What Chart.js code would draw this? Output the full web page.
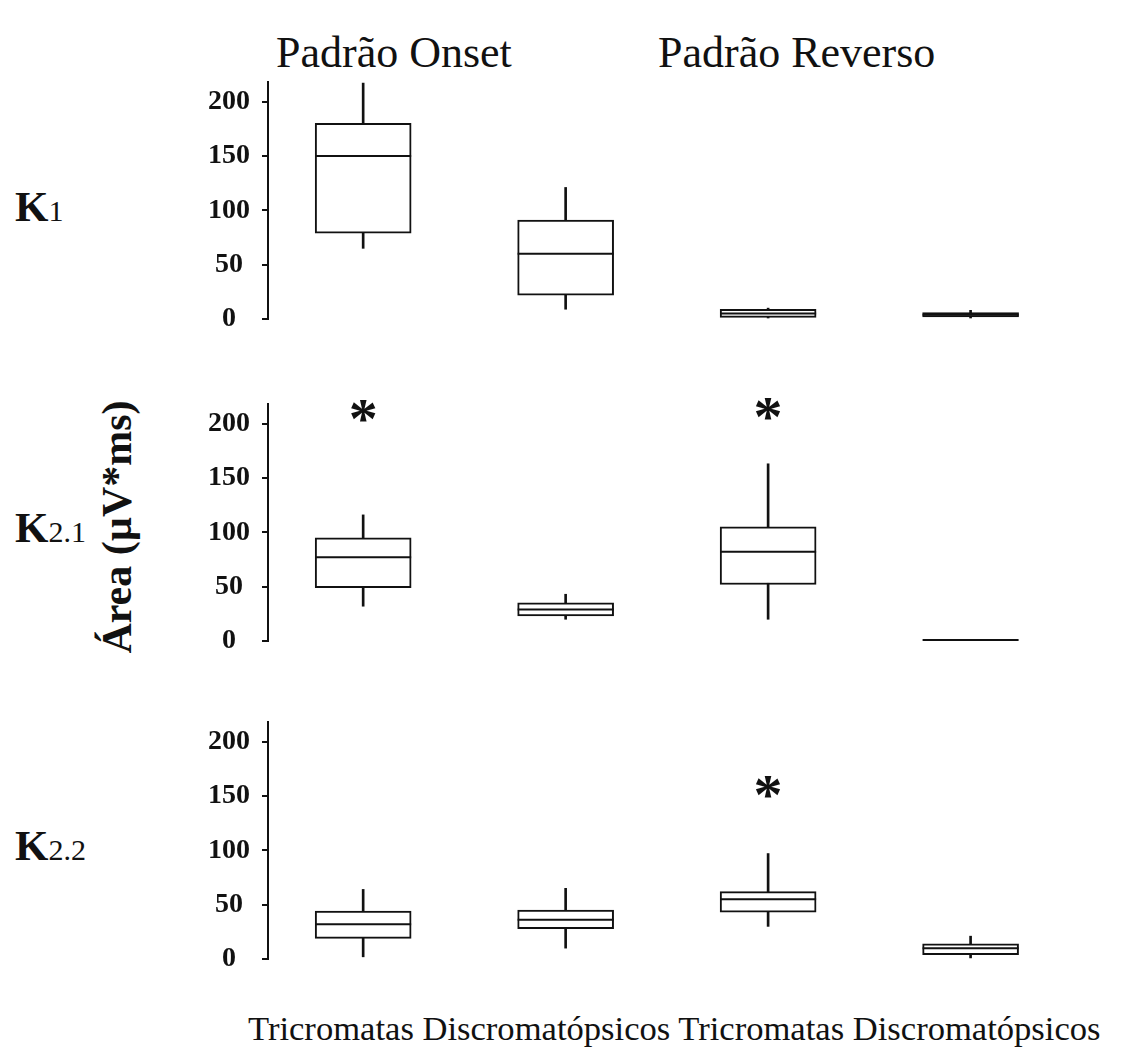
<!DOCTYPE html>
<html>
<head>
<meta charset="utf-8">
<script src="https://cdn.jsdelivr.net/npm/chart.js@4.4.0/dist/chart.umd.min.js"></script>
<style>
  body { margin: 0; background: #fff; width: 1126px; height: 1048px; position: relative; overflow: hidden;
         font-family: 'Liberation Serif', 'Times New Roman', serif; color: #111; }
  .panel { position: absolute; left: 0; width: 1126px; height: 277px; }
  .txt { position: absolute; white-space: nowrap; line-height: 1; }
  .title { font-size: 44px; top: 31px; }
  .klabel { font-size: 43px; font-weight: bold; left: 15px; }
  .klabel span { font-size: 30px; font-weight: normal; }
</style>
</head>
<body>
<div class="txt title" style="left:276px">Padrão Onset</div>
<div class="txt title" style="left:658px">Padrão Reverso</div>

<div class="txt klabel" style="top:185px">K<span>1</span></div>
<div class="txt klabel" style="top:506px">K<span>2.1</span></div>
<div class="txt klabel" style="top:824px">K<span>2.2</span></div>

<div class="txt" style="left:117px; top:527px; font-size:42px; font-weight:bold; transform:translate(-50%,-50%) rotate(-90deg);">Área (µV*ms)</div>

<div class="panel" style="top:62px"><canvas id="k1" width="1126" height="277"></canvas></div>
<div class="panel" style="top:384px"><canvas id="k21" width="1126" height="277"></canvas></div>
<div class="panel" style="top:702px"><canvas id="k22" width="1126" height="277"></canvas></div>

<div id="xlabels" class="txt" style="left:248px; top:1011px; font-size:34.6px;"></div>

<script>
// groups along the x axis
const groups = ['Tricromatas', 'Discromatópsicos', 'Tricromatas', 'Discromatópsicos'];
const yTicks = [0, 50, 100, 150, 200];

// K1
const k1Min = [65, 9, 0, 0];
const k1Q1 = [79, 22, 1.5, 2];
const k1Med = [150, 60, 5, 4];
const k1Q3 = [180, 91, 9, 6];
const k1Max = [217, 121, 10, 8];
const k1Stars = [null, null, null, null];

// K2.1
const k21Min = [32, 20, 20, 1];
const k21Q1 = [49, 23, 52, 1];
const k21Med = [77, 29, 82, 1];
const k21Q3 = [95, 35, 105, 1];
const k21Max = [116, 43, 163, 1];
const k21Stars = [212, null, 213, null];

// K2.2
const k22Min = [2, 10, 30, 1];
const k22Q1 = [19, 28, 43, 4];
const k22Med = [32, 36, 55, 10];
const k22Q3 = [44, 45, 62, 14];
const k22Max = [64, 65, 97, 21];
const k22Stars = [null, null, 158, null];

const ink = '#111';
const serif = "'Liberation Serif', 'Times New Roman', serif";

document.getElementById('xlabels').textContent = groups.join(' ');

// draws the significance asterisks above the boxes
const starPlugin = {
    id: 'stars',
    afterDatasetsDraw(chart, args, opts) {
        const { ctx, scales: { x, y } } = chart;
        ctx.save();
        ctx.fillStyle = ink;
        ctx.font = 'bold 58px ' + serif;
        ctx.textAlign = 'center';
        ctx.textBaseline = 'alphabetic';
        const m = ctx.measureText('*');
        const shift = (m.actualBoundingBoxAscent - m.actualBoundingBoxDescent) / 2;
        opts.values.forEach((v, i) => {
            if (v == null) return;
            ctx.fillText('*', x.getPixelForValue(i + 1), y.getPixelForValue(v) + shift);
        });
        ctx.restore();
    }
};

function makePanel(id, mins, q1s, meds, q3s, maxs, stars) {
    const pos = groups.map((g, i) => i + 1);
    const canvas = document.getElementById(id);
    return new Chart(canvas, {
        type: 'bar',
        data: {
            datasets: [
                {
                    label: 'whisker',
                    data: pos.map((x, i) => ({ x, y: [mins[i], maxs[i]] })),
                    backgroundColor: ink,
                    borderWidth: 0,
                    barThickness: 2,
                    grouped: false,
                    order: 3
                },
                {
                    label: 'box',
                    data: pos.map((x, i) => ({ x, y: [q1s[i], q3s[i]] })),
                    backgroundColor: '#fff',
                    borderColor: ink,
                    borderWidth: 2,
                    borderSkipped: false,
                    barThickness: 96,
                    grouped: false,
                    order: 2
                },
                {
                    type: 'scatter',
                    label: 'median',
                    data: pos.map((x, i) => ({ x, y: meds[i] })),
                    pointStyle: 'line',
                    pointRadius: 48,
                    pointHoverRadius: 48,
                    borderColor: ink,
                    borderWidth: 2,
                    order: 1
                }
            ]
        },
        options: {
            responsive: false,
            animation: false,
            events: [],
            layout: { autoPadding: false, padding: { left: 0, right: 40, top: 20, bottom: 20 } },
            plugins: {
                legend: { display: false },
                tooltip: { enabled: false },
                stars: { values: stars }
            },
            scales: {
                x: { type: 'linear', min: 0.53, max: 4.57, offset: false, display: false },
                y: {
                    min: 0,
                    max: 218,
                    afterFit: (s) => { s.width = 268; },
                    afterBuildTicks: (s) => { s.ticks = yTicks.map(v => ({ value: v })); },
                    border: { display: true, color: ink, width: 2 },
                    grid: { drawOnChartArea: false, drawTicks: true, tickLength: 6, color: ink, lineWidth: 2 },
                    ticks: {
                        crossAlign: 'center',
                        padding: 12,
                        color: ink,
                        font: { family: serif, size: 28, weight: 'bold', lineHeight: 0.5 }
                    }
                }
            }
        },
        plugins: [starPlugin]
    });
}

makePanel('k1', k1Min, k1Q1, k1Med, k1Q3, k1Max, k1Stars);
makePanel('k21', k21Min, k21Q1, k21Med, k21Q3, k21Max, k21Stars);
makePanel('k22', k22Min, k22Q1, k22Med, k22Q3, k22Max, k22Stars);
</script>
</body>
</html>
